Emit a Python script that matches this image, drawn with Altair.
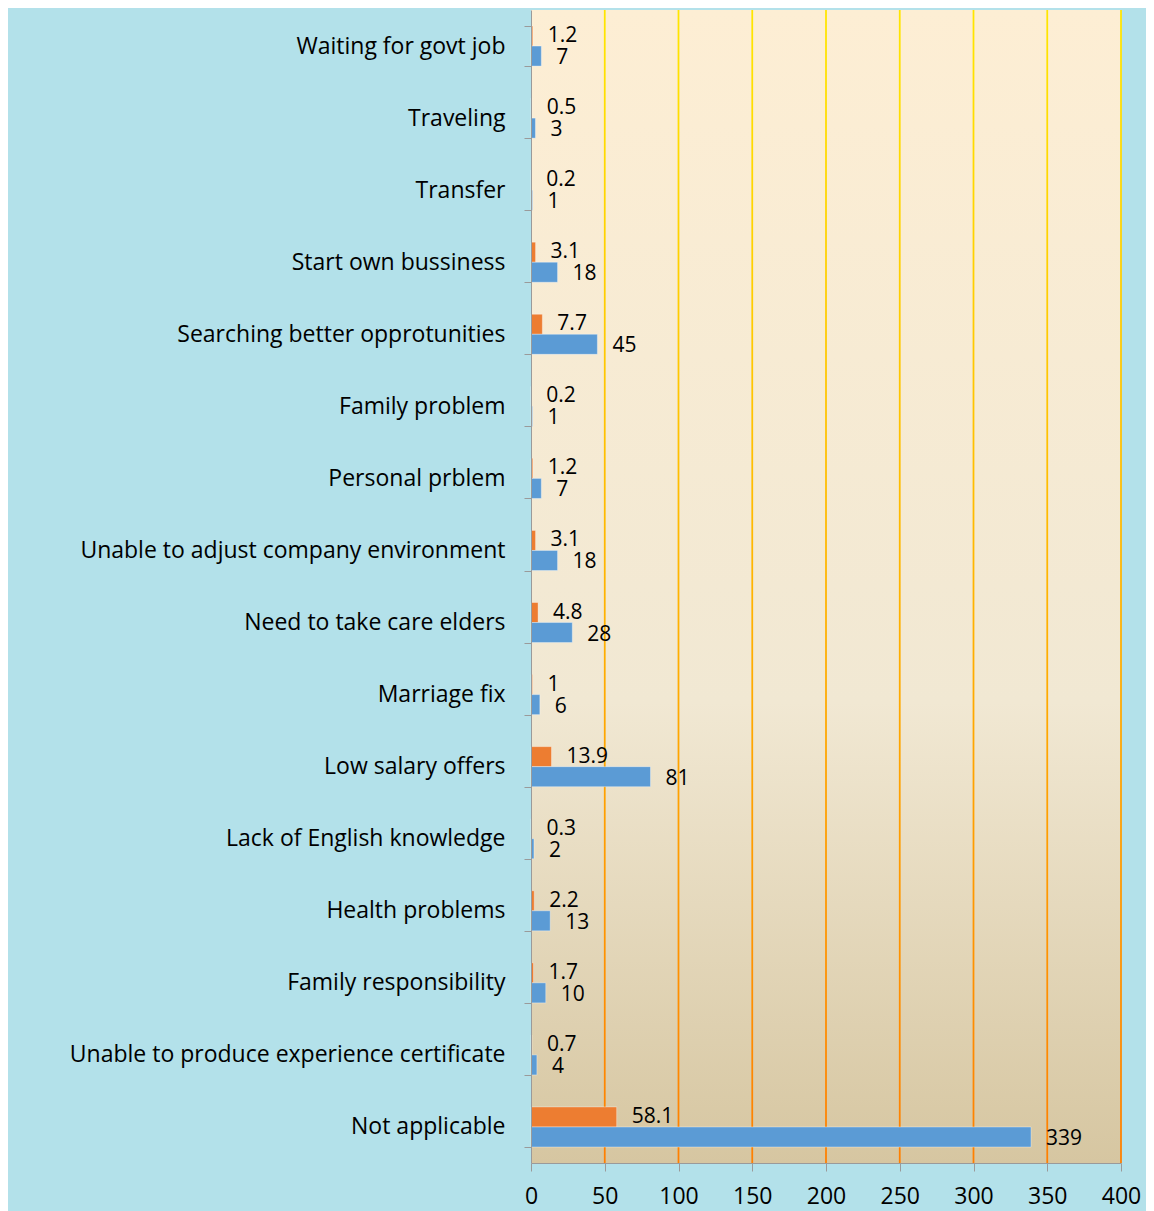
import altair as alt
import pandas as pd

categories = [
    "Waiting for govt job",
    "Traveling",
    "Transfer",
    "Start own bussiness",
    "Searching better opprotunities",
    "Family problem",
    "Personal prblem",
    "Unable to adjust company environment",
    "Need to take care elders",
    "Marriage fix",
    "Low salary offers",
    "Lack of English knowledge",
    "Health problems",
    "Family responsibility",
    "Unable to produce experience certificate",
    "Not applicable",
]
counts = [7, 3, 1, 18, 45, 1, 7, 18, 28, 6, 81, 2, 13, 10, 4, 339]
percents = [1.2, 0.5, 0.2, 3.1, 7.7, 0.2, 1.2, 3.1, 4.8, 1, 13.9, 0.3, 2.2, 1.7, 0.7, 58.1]
ticks = [50, 100, 150, 200, 250, 300, 350, 400]
series_names = ["Percent", "Count"]
series_colors = ["#ed7d31", "#5b9bd5"]

rows = []
for c, n, p in zip(categories, counts, percents):
    rows.append({"cat": c, "series": "Percent", "value": p, "label": f"{p:g}"})
    rows.append({"cat": c, "series": "Count", "value": n, "label": f"{n:g}"})
df = pd.DataFrame(rows)

W, H = 590, 1153
FONT = "Open Sans"

x_axis = alt.Axis(
    values=[0] + ticks, title=None, grid=False,
    domainColor="#9a9a9a", tickColor="#9a9a9a", tickSize=8,
    labelFont=FONT, labelFontSize=23, labelColor="#000000",
    labelPadding=14, labelFlush=False, labelOverlap=False, zindex=1,
)
x_scale = alt.Scale(domain=[0, 400])

plot_bg = alt.Chart(pd.DataFrame({"a": [0]})).mark_rect(
    fill=alt.LinearGradient(
        gradient="linear",
        x1=0, x2=0, y1=0, y2=1,
        stops=[
            alt.GradientStop(color="#fdeed4", offset=0),
            alt.GradientStop(color="#f1e8d3", offset=0.6),
            alt.GradientStop(color="#d6c6a1", offset=1),
        ],
    )
).encode(x=alt.value(0), x2=alt.value(W), y=alt.value(0), y2=alt.value(H))

grid = alt.Chart(pd.DataFrame({"v": ticks})).transform_calculate(
    a="datum.v - 0.6", b="datum.v + 0.6"
).mark_rect(
    fill=alt.LinearGradient(
        gradient="linear",
        x1=0, x2=0, y1=0, y2=1,
        stops=[
            alt.GradientStop(color="#ffe600", offset=0),
            alt.GradientStop(color="#ffb400", offset=0.5),
            alt.GradientStop(color="#ff7f00", offset=1),
        ],
    )
).encode(
    x=alt.X("a:Q", scale=x_scale, axis=x_axis),
    x2="b:Q",
    y=alt.value(0),
    y2=alt.value(H),
)

x_enc = alt.X("value:Q", scale=x_scale, axis=x_axis)
y_enc = alt.Y(
    "cat:N",
    sort=categories,
    scale=alt.Scale(paddingInner=0.444, paddingOuter=0.222),
    axis=alt.Axis(
        title=None, grid=False, tickBand="extent",
        domainColor="#9a9a9a", tickColor="#9a9a9a", tickSize=7,
        labelFont=FONT, labelFontSize=23, labelColor="#000000",
        labelPadding=19, labelLimit=600, zindex=1,
    ),
)
yoff = alt.YOffset("series:N", sort=series_names)

base = alt.Chart(df)
bars = base.mark_bar(strokeWidth=1, strokeOpacity=0.35, stroke="#ffffff").encode(
    x=x_enc,
    y=y_enc,
    yOffset=yoff,
    color=alt.Color(
        "series:N",
        scale=alt.Scale(domain=series_names, range=series_colors),
        legend=None,
    ),
)


def label_layer(series, dy):
    return base.transform_filter(alt.datum.series == series).mark_text(
        align="left", baseline="middle", dx=15, dy=dy,
        font=FONT, fontSize=21, color="#000000",
    ).encode(
        x=x_enc,
        y=y_enc,
        yOffset=yoff,
        text="label:N",
    )


labels_pct = label_layer("Percent", 0)
labels_cnt = label_layer("Count", 2)

chart = alt.layer(plot_bg, grid, bars, labels_pct, labels_cnt).properties(
    width=W,
    height=H,
    autosize="none",
    padding={"left": 523, "top": 2, "right": 25, "bottom": 48},
    background="#b3e1ea",
).configure_view(stroke=None)

chart.save("out.html", embed_options={"renderer": "svg", "actions": False})
